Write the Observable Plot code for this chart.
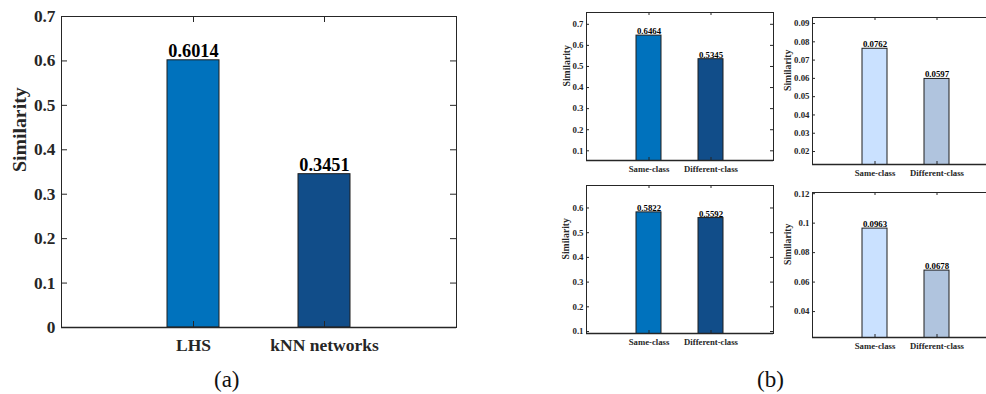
<!DOCTYPE html>
<html>
<head>
<meta charset="utf-8">
<script src="https://cdn.jsdelivr.net/npm/d3@7"></script>
<script src="https://cdn.jsdelivr.net/npm/@observablehq/plot@0.6"></script>
<style>
  html, body { margin: 0; padding: 0; background: #fff; width: 986px; height: 394px; overflow: hidden; }
  #root { position: relative; width: 986px; height: 394px; overflow: hidden; font-family: "Liberation Serif", "Times New Roman", serif; }
  .panel { position: absolute; }
  .panel svg { max-width: none !important; display: block; font-family: "Liberation Serif", "Times New Roman", serif; font-weight: bold; }
  .cap { position: absolute; font-family: "Liberation Serif", "Times New Roman", serif; font-size: 23px; color: #111; line-height: 1; }
</style>
</head>
<body>
<div id="root"></div>
<script>
// ---- data ----
const aCats = ["LHS", "kNN networks"];
const aValues = [0.6014, 0.3451];
const aTicks = [0, 0.1, 0.2, 0.3, 0.4, 0.5, 0.6, 0.7];

const bCats = ["Same-class", "Different-class"];
const b1Values = [0.6464, 0.5345];
const b2Values = [0.0762, 0.0597];
const b3Values = [0.5822, 0.5592];
const b4Values = [0.0963, 0.0678];
const b1Ticks = [0.1, 0.2, 0.3, 0.4, 0.5, 0.6, 0.7];
const b2Ticks = [0.02, 0.03, 0.04, 0.05, 0.06, 0.07, 0.08, 0.09];
const b3Ticks = [0.1, 0.2, 0.3, 0.4, 0.5, 0.6];
const b4Ticks = [0.04, 0.06, 0.08, 0.1, 0.12];

const darkColors = ["#0072BD", "#114D89"];
const lightColors = ["#CAE1FF", "#B0C4DE"];

const yLabel = "Similarity";

// ---- panel builder ----
function panel(cfg) {
  const data = cfg.cats.map((c, i) => ({cat: c, value: cfg.values[i], color: cfg.colors[i]}));
  const fw = cfg.width - cfg.ml - cfg.mr;
  const fh = cfg.height - cfg.mt - cfg.mb;
  const fmt = d3.format("~g");
  const axisColor = "#262626";
  const chart = Plot.plot({
    width: cfg.width,
    height: cfg.height,
    marginLeft: cfg.ml, marginRight: cfg.mr, marginTop: cfg.mt, marginBottom: cfg.mb,
    style: {background: "transparent", overflow: "visible"},
    x: {type: "band", domain: cfg.cats, paddingInner: 0.6, paddingOuter: 0.8, axis: null},
    y: {domain: cfg.yDomain, axis: null},
    color: {type: "identity"},
    marks: [
      Plot.barY(data, {x: "cat", y: "value", fill: "color", stroke: "#1e1e1e", strokeWidth: 1, clip: true}),
      Plot.frame({stroke: axisColor, strokeWidth: 1}),
      Plot.ruleY([cfg.yDomain[0]], {stroke: axisColor, strokeWidth: 1.6}),
      // inward tick marks
      Plot.tickY(cfg.ticks, {y: d => d, stroke: axisColor, insetRight: fw - cfg.tick}),
      Plot.tickY(cfg.ticks, {y: d => d, stroke: axisColor, insetLeft: fw - cfg.tick}),
      Plot.tickX(cfg.cats, {x: d => d, stroke: axisColor, insetBottom: fh - cfg.tick}),
      Plot.tickX(cfg.cats, {x: d => d, stroke: axisColor, insetTop: fh - cfg.tick}),
      Plot.axisY({ticks: cfg.ticks, tickFormat: fmt, tickSize: 0, tickPadding: cfg.yPad, fontSize: cfg.tickFont, label: null, fill: "#262626"}),
      Plot.axisX({tickSize: 0, tickPadding: cfg.xPad, fontSize: cfg.catFont, label: null, fill: "#262626"}),
      Plot.text(data, {x: "cat", y: "value", text: d => d.value.toFixed(4), lineAnchor: "bottom", dy: -cfg.valGap, fontSize: cfg.valFont, fontWeight: "bold", fill: "black"}),
      Plot.text([yLabel], {frameAnchor: "left", rotate: -90, dx: cfg.labelDx, fontSize: cfg.labelFont, fontWeight: "bold", fill: "#262626"})
    ]
  });
  const wrap = document.createElement("div");
  wrap.className = "panel";
  wrap.style.left = cfg.left + "px";
  wrap.style.top = cfg.top + "px";
  wrap.style.width = cfg.width + "px";
  wrap.style.height = cfg.height + "px";
  wrap.appendChild(chart);
  document.getElementById("root").appendChild(wrap);
}

const big = {tickFont: 17.3, catFont: 17.5, valFont: 18.3, labelFont: 19.8, yPad: 6, xPad: 11.5, valGap: 3, tick: 6};
const small = {tickFont: 8.8, catFont: 8.7, valFont: 8.8, labelFont: 9.7, yPad: 3, xPad: 5, valGap: 1.5, tick: 3};

panel({...big, cats: aCats, values: aValues, colors: darkColors, ticks: aTicks, yDomain: [0, 0.7],
  left: 0, top: 0, width: 470, height: 360, ml: 61, mr: 14, mt: 16, mb: 33, labelDx: -42});

panel({...small, cats: bCats, values: b1Values, colors: darkColors, ticks: b1Ticks, yDomain: [0.054, 0.756],
  left: 540, top: 0, width: 240, height: 180, ml: 46, mr: 7, mt: 12, mb: 20, labelDx: -19.5});

panel({...small, cats: bCats, values: b2Values, colors: lightColors, ticks: b2Ticks, yDomain: [0.0129, 0.0933],
  left: 770, top: 0, width: 240, height: 184, ml: 42, mr: 12, mt: 17, mb: 20, labelDx: -24.5});

panel({...small, cats: bCats, values: b3Values, colors: darkColors, ticks: b3Ticks, yDomain: [0.092, 0.691],
  left: 540, top: 170, width: 240, height: 183, ml: 46, mr: 7, mt: 15, mb: 20, labelDx: -21});

panel({...small, cats: bCats, values: b4Values, colors: lightColors, ticks: b4Ticks, yDomain: [0.0224, 0.1208],
  left: 770, top: 175, width: 240, height: 182, ml: 42, mr: 12, mt: 17, mb: 20, labelDx: -25});

// sub-captions
const capA = document.createElement("div");
capA.className = "cap"; capA.textContent = "(a)";
capA.style.left = "214px"; capA.style.top = "368px";
document.getElementById("root").appendChild(capA);
const capB = document.createElement("div");
capB.className = "cap"; capB.textContent = "(b)";
capB.style.left = "757px"; capB.style.top = "368px";
document.getElementById("root").appendChild(capB);
</script>
</body>
</html>
